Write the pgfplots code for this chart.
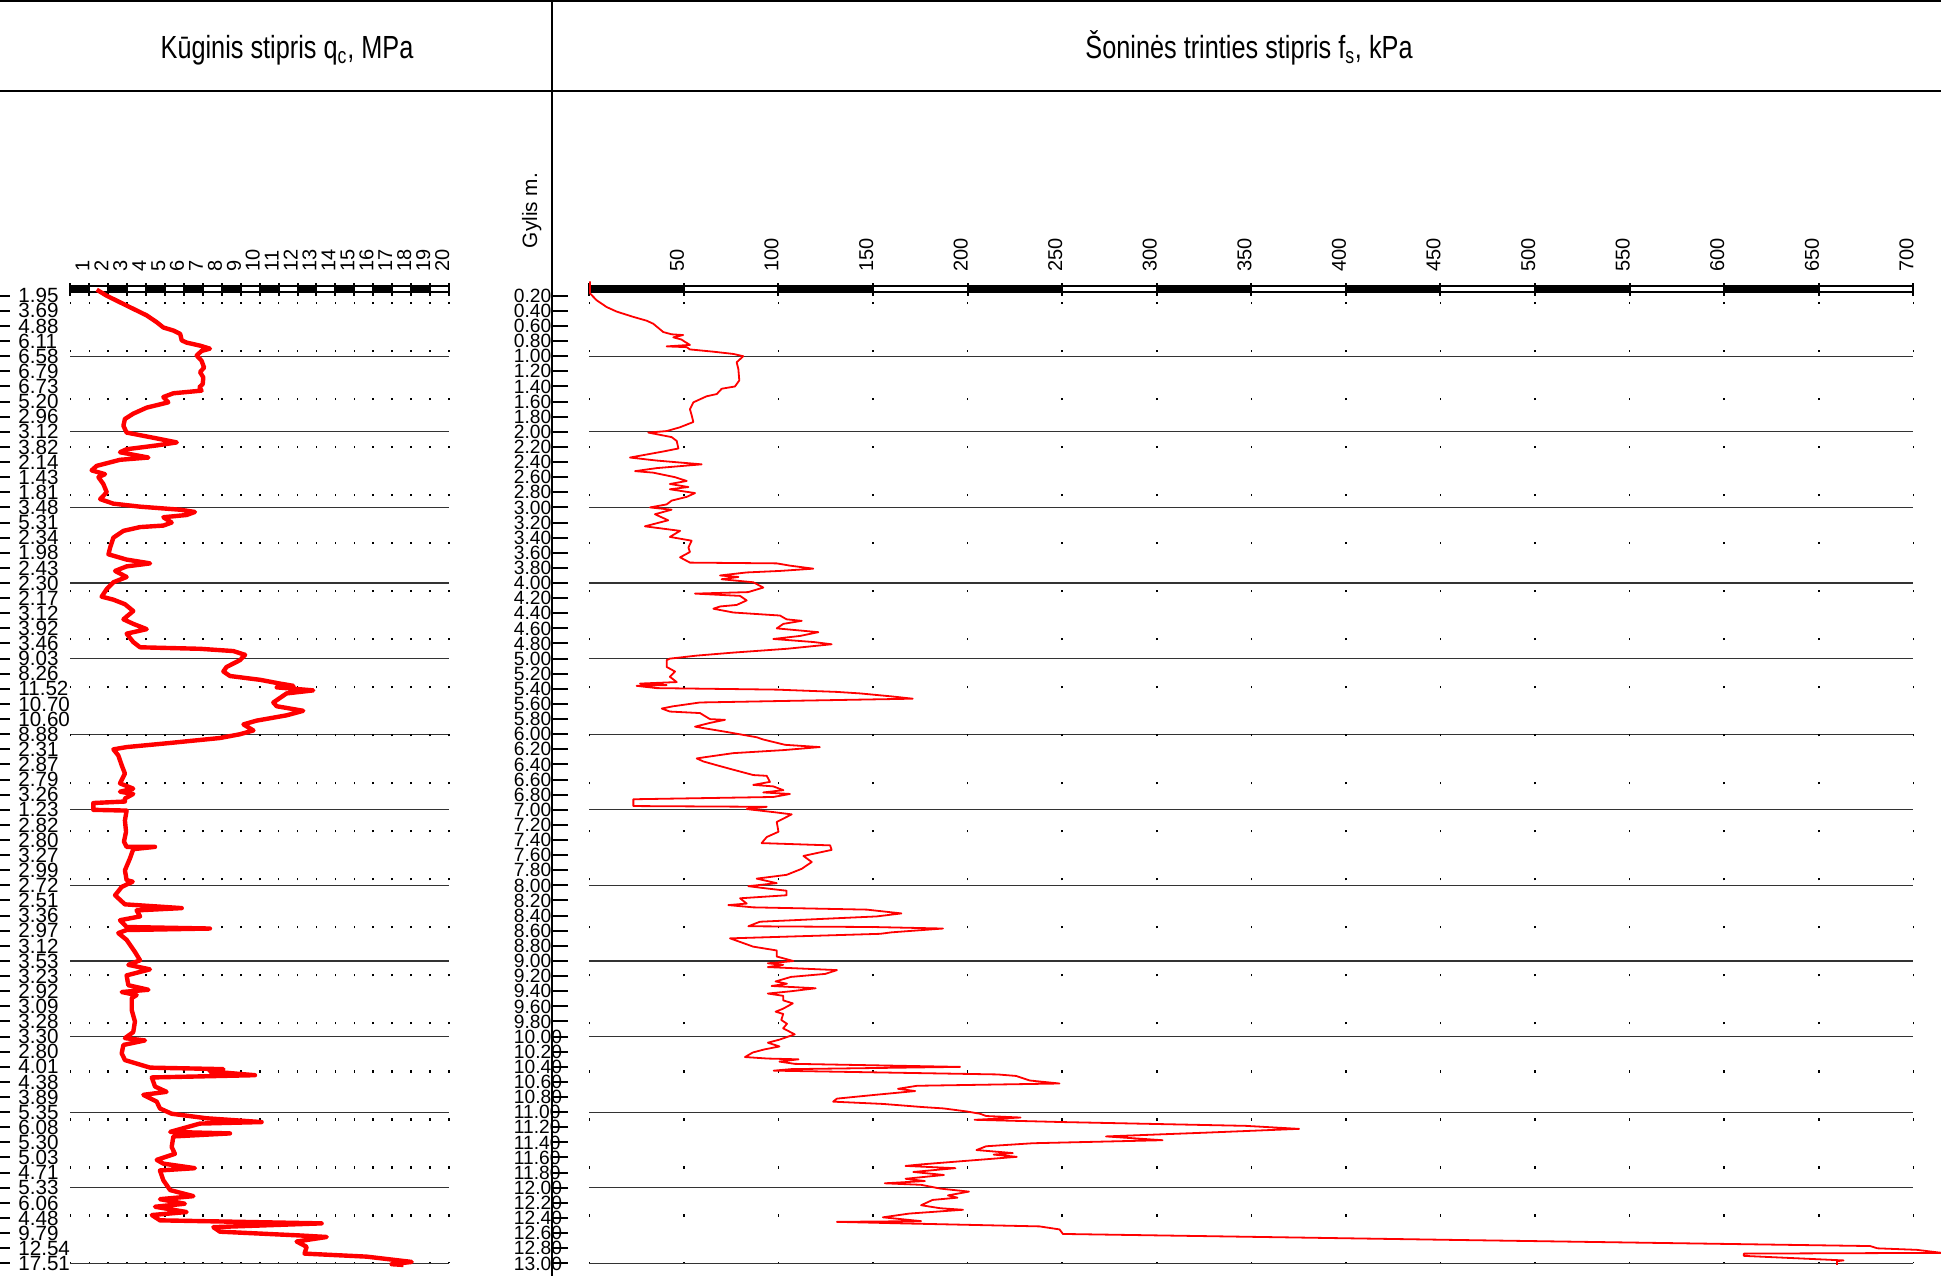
\documentclass[border=0pt]{standalone}
\usepackage{pgfplots}
\pgfplotsset{compat=1.18}
\usepackage{graphicx}
\usepackage{fontspec}
\setmainfont{Liberation Sans}

\def\depthticks{0.2,0.4,0.6,0.8,1.0,1.2,1.4,1.6,1.8,2.0,2.2,2.4,2.6,2.8,3.0,3.2,3.4,3.6,3.8,4.0,4.2,4.4,4.6,4.8,5.0,5.2,5.4,5.6,5.8,6.0,6.2,6.4,6.6,6.8,7.0,7.2,7.4,7.6,7.8,8.0,8.2,8.4,8.6,8.8,9.0,9.2,9.4,9.6,9.8,10.0,10.2,10.4,10.6,10.8,11.0,11.2,11.4,11.6,11.8,12.0,12.2,12.4,12.6,12.8,13.0}

\begin{document}
\begin{tikzpicture}
\begin{scope}[x=0.5pt,y=-0.5pt]
  \draw[line width=1pt] (0,1) -- (1941,1);
  \draw[line width=1pt] (0,90.7) -- (1941,90.7);
  \draw[line width=1pt] (552,0) -- (552,1276);
  \node[anchor=base, inner sep=0pt] at (287,58) {\fontsize{16pt}{16pt}\selectfont\scalebox{0.79}[1]{Kūginis stipris q\textsubscript{c}, MPa}};
  \node[anchor=base, inner sep=0pt] at (1249,58) {\fontsize{16pt}{16pt}\selectfont\scalebox{0.79}[1]{Šoninės trinties stipris f\textsubscript{s}, kPa}};
  \node[rotate=90, anchor=base, inner sep=0pt] at (537,210.5) {\fontsize{10.4pt}{10.4pt}\selectfont Gylis m.};
  \foreach \i in {1,...,65} {
    \draw[line width=1pt] (0,280.6+15.118*\i) -- (10,280.6+15.118*\i);
    \draw[line width=1pt] (552,280.6+15.118*\i) -- (568,280.6+15.118*\i);
  }
\end{scope}

% ---------------- left panel: qc ----------------
\begin{axis}[
  at={(129.85pt,-386pt)}, anchor=center,
  width=189.3pt, height=491.4pt, scale only axis,
  xmin=0, xmax=20, ymin=0, ymax=13, y dir=reverse,
  clip=false,
  axis line style={draw=none},
  major tick length=0pt,
  /pgf/number format/assume math mode=true,
  xtick={1,2,3,4,5,6,7,8,9,10,11,12,13,14,15,16,17,18,19,20},
  xticklabel pos=upper,
  xticklabel shift=4.45pt,
  xticklabel style={rotate=90, anchor=base west, inner sep=0pt, font=\fontsize{10pt}{10pt}\selectfont},
  ytick=\depthticks,
  yticklabels={1.95,3.69,4.88,6.11,6.58,6.79,6.73,5.20,2.96,3.12,3.82,2.14,1.43,1.81,3.48,5.31,2.34,1.98,2.43,2.30,2.17,3.12,3.92,3.46,9.03,8.26,11.52,10.70,10.60,8.88,2.31,2.87,2.79,3.26,1.23,2.82,2.80,3.27,2.99,2.72,2.51,3.36,2.97,3.12,3.53,3.23,2.92,3.09,3.28,3.30,2.80,4.01,4.38,3.89,5.35,6.08,5.30,5.03,4.71,5.33,6.06,4.48,9.79,12.54,17.51},
  yticklabel style={anchor=west, inner sep=0pt, xshift=-26.2pt, font=\fontsize{10.3pt}{10.3pt}\selectfont},
  extra y ticks={1,2,3,4,5,6,7,8,9,10,11,12,13},
  extra y tick labels={},
  extra y tick style={grid=major, major grid style={black!80, line width=0.6pt}},
]
\pgfplotsinvokeforeach{0,1,2,3,4,5,6,7,8,9,10,11,12,13,14,15,16,17,18,19,20}{
  \draw[line width=0.8pt, dash pattern=on 1.2pt off 22.815pt, dash phase=0.6pt] (axis cs:#1,13) -- (axis cs:#1,0.2);
}
\fill (axis cs:0,0.074) rectangle (axis cs:1,0.152);
\fill (axis cs:2,0.074) rectangle (axis cs:3,0.152);
\fill (axis cs:4,0.074) rectangle (axis cs:5,0.152);
\fill (axis cs:6,0.074) rectangle (axis cs:7,0.152);
\fill (axis cs:8,0.074) rectangle (axis cs:9,0.152);
\fill (axis cs:10,0.074) rectangle (axis cs:11,0.152);
\fill (axis cs:12,0.074) rectangle (axis cs:13,0.152);
\fill (axis cs:14,0.074) rectangle (axis cs:15,0.152);
\fill (axis cs:16,0.074) rectangle (axis cs:17,0.152);
\fill (axis cs:18,0.074) rectangle (axis cs:19,0.152);
\draw[line width=1.15pt] (axis cs:0,0.074) rectangle (axis cs:20,0.152);
\pgfplotsinvokeforeach{0,1,2,3,4,5,6,7,8,9,10,11,12,13,14,15,16,17,18,19,20}{
  \draw[line width=1pt] (axis cs:#1,0.032) -- (axis cs:#1,0.204);
}
\addplot[red, line width=2.2pt, line join=round] coordinates {
(1.39,0.12) (1.92,0.20) (2.97,0.33) (4.03,0.46) (4.56,0.55) (4.91,0.62) (5.44,0.66) (5.80,0.705) (5.88,0.79) (6.14,0.82) (6.85,0.86) (7.37,0.90) (6.93,0.93) (6.67,0.99) (6.93,1.06) (7.06,1.15) (6.85,1.21) (7.02,1.28) (6.99,1.37) (6.81,1.41) (6.93,1.455) (5.44,1.49) (4.91,1.54) (5.17,1.61) (4.03,1.68) (3.32,1.76) (2.88,1.83) (2.80,1.92) (2.97,2.01) (4.21,2.07) (5.62,2.14) (4.56,2.18) (2.97,2.23) (2.62,2.27) (4.12,2.34) (2.62,2.37) (1.39,2.45) (1.12,2.51) (1.83,2.56) (1.48,2.60) (1.74,2.69) (1.92,2.80) (1.57,2.89) (2.27,2.95) (3.68,2.99) (5.79,3.03) (6.58,3.06) (6.14,3.10) (4.91,3.13) (5.35,3.20) (4.91,3.24) (3.68,3.26) (2.80,3.31) (2.27,3.40) (2.10,3.53) (2.01,3.62) (2.97,3.69) (4.21,3.74) (2.97,3.78) (2.36,3.84) (2.97,3.92) (2.27,3.99) (1.92,4.08) (1.65,4.18) (2.27,4.22) (2.88,4.28) (3.32,4.37) (2.80,4.48) (3.32,4.54) (4.03,4.61) (2.97,4.67) (3.32,4.78) (3.68,4.85) (6.85,4.87) (8.61,4.90) (9.23,4.95) (8.96,5.02) (8.25,5.11) (8.08,5.17) (8.43,5.23) (10.02,5.28) (11.07,5.33) (11.78,5.36) (10.90,5.38) (12.83,5.42) (11.42,5.46) (10.72,5.58) (10.90,5.63) (12.30,5.69) (11.42,5.75) (9.84,5.82) (9.14,5.87) (9.67,5.95) (8.96,6.00) (7.90,6.05) (5.08,6.12) (2.97,6.17) (2.27,6.20) (2.53,6.28) (2.71,6.41) (2.88,6.52) (2.62,6.65) (3.32,6.72) (2.62,6.76) (3.32,6.79) (2.88,6.85) (2.88,6.89) (1.21,6.91) (1.21,7.00) (2.97,7.01) (2.88,7.14) (2.94,7.29) (2.83,7.42) (2.97,7.49) (4.47,7.49) (3.32,7.52) (3.15,7.64) (2.88,7.80) (2.97,7.93) (3.29,7.95) (2.71,8.02) (2.36,8.13) (2.88,8.25) (5.88,8.30) (3.50,8.33) (3.68,8.41) (2.62,8.46) (2.97,8.55) (7.37,8.57) (2.97,8.59) (2.53,8.63) (2.97,8.72) (3.41,8.88) (3.68,8.99) (3.06,9.05) (4.20,9.11) (2.97,9.19) (3.06,9.32) (4.12,9.38) (2.71,9.41) (3.50,9.45) (3.24,9.49) (3.24,9.65) (3.41,9.80) (3.32,9.94) (2.88,10.02) (3.94,10.05) (2.80,10.11) (2.71,10.22) (2.88,10.31) (4.21,10.41) (8.08,10.43) (7.37,10.46) (9.75,10.51) (4.30,10.54) (4.47,10.66) (5.08,10.73) (3.85,10.77) (4.56,10.86) (4.73,10.95) (5.35,11.02) (7.20,11.08) (10.10,11.13) (6.84,11.15) (5.27,11.26) (8.43,11.28) (5.44,11.32) (5.35,11.46) (5.52,11.55) (4.56,11.63) (4.91,11.68) (6.58,11.74) (4.73,11.77) (4.91,11.90) (5.27,12.03) (6.50,12.11) (4.73,12.15) (6.05,12.21) (4.47,12.25) (6.14,12.32) (4.30,12.36) (4.73,12.43) (13.27,12.47) (7.55,12.52) (7.90,12.58) (12.13,12.63) (13.54,12.65) (11.95,12.71) (12.48,12.78) (12.37,12.87) (15.65,12.91) (18.03,12.98) (16.97,13.01) (17.59,13.02)
};
\end{axis}

% ---------------- right panel: fs ----------------
\begin{axis}[
  at={(625.65pt,-386pt)}, anchor=center,
  width=662pt, height=491.4pt, scale only axis,
  xmin=0, xmax=700, ymin=0, ymax=13, y dir=reverse,
  clip=false,
  axis line style={draw=none},
  major tick length=0pt,
  /pgf/number format/assume math mode=true,
  xtick={50,100,150,200,250,300,350,400,450,500,550,600,650,700},
  xticklabel pos=upper,
  xticklabel shift=4.45pt,
  xticklabel style={rotate=90, anchor=base west, inner sep=0pt, font=\fontsize{10pt}{10pt}\selectfont},
  ytick=\depthticks,
  yticklabel={\pgfmathprintnumber[fixed,fixed zerofill,precision=2,assume math mode=true]{\tick}},
  yticklabel style={anchor=west, inner sep=0pt, xshift=-37.9pt, font=\fontsize{9.6pt}{9.6pt}\selectfont},
  extra y ticks={1,2,3,4,5,6,7,8,9,10,11,12,13},
  extra y tick labels={},
  extra y tick style={grid=major, major grid style={black!80, line width=0.6pt}},
]
\pgfplotsinvokeforeach{0,50,100,150,200,250,300,350,400,450,500,550,600,650,700}{
  \draw[line width=0.8pt, dash pattern=on 1.2pt off 22.815pt, dash phase=0.6pt] (axis cs:#1,13) -- (axis cs:#1,0.2);
}
\fill (axis cs:0,0.074) rectangle (axis cs:50,0.152);
\fill (axis cs:100,0.074) rectangle (axis cs:150,0.152);
\fill (axis cs:200,0.074) rectangle (axis cs:250,0.152);
\fill (axis cs:300,0.074) rectangle (axis cs:350,0.152);
\fill (axis cs:400,0.074) rectangle (axis cs:450,0.152);
\fill (axis cs:500,0.074) rectangle (axis cs:550,0.152);
\fill (axis cs:600,0.074) rectangle (axis cs:650,0.152);
\draw[line width=1.15pt] (axis cs:0,0.074) rectangle (axis cs:700,0.152);
\pgfplotsinvokeforeach{0,50,100,150,200,250,300,350,400,450,500,550,600,650,700}{
  \draw[line width=1pt] (axis cs:#1,0.032) -- (axis cs:#1,0.204);
}
\addplot[red, line width=0.9pt, line join=round] coordinates {
(0.4,0.01) (0.4,0.17) (3.9,0.26) (9.2,0.35) (14.5,0.41) (23.3,0.48) (30.3,0.53) (33.8,0.57) (39.1,0.68) (43.5,0.71) (49.6,0.72) (44.4,0.75) (48.8,0.78) (50.6,0.81) (53.2,0.85) (40.9,0.87) (51.5,0.88) (53.2,0.91) (65.6,0.94) (76.2,0.97) (81.4,1.00) (77.9,1.08) (78.8,1.17) (79.3,1.32) (77.0,1.40) (70.0,1.43) (67.4,1.50) (62.0,1.53) (55.0,1.61) (53.2,1.70) (54.1,1.78) (55.0,1.87) (47.9,1.94) (40.9,1.99) (31.2,2.01) (37.4,2.04) (43.5,2.07) (46.2,2.12) (47.1,2.22) (39.1,2.26) (21.5,2.34) (35.6,2.38) (59.4,2.43) (35.6,2.48) (24.2,2.52) (33.8,2.54) (45.3,2.60) (51.5,2.65) (42.6,2.69) (52.4,2.73) (42.6,2.76) (55.9,2.81) (51.5,2.86) (43.5,2.91) (40.9,2.96) (32.1,3.00) (43.5,3.03) (34.7,3.09) (41.7,3.17) (29.4,3.25) (48.0,3.31) (42.6,3.39) (54.1,3.44) (52.4,3.53) (53.2,3.59) (48.0,3.66) (53.2,3.73) (99.1,3.74) (106.1,3.77) (118.4,3.81) (100.8,3.84) (83.2,3.86) (69.1,3.90) (78.8,3.92) (69.9,3.95) (86.7,3.99) (92.0,4.06) (84.0,4.12) (55.9,4.14) (79.7,4.17) (83.2,4.23) (77.9,4.29) (69.1,4.31) (65.6,4.34) (76.2,4.39) (100.8,4.43) (104.3,4.48) (112.3,4.50) (102.6,4.54) (99.1,4.60) (121.1,4.65) (111.4,4.70) (97.3,4.74) (118.4,4.78) (128.1,4.81) (104.3,4.87) (76.2,4.92) (56.8,4.96) (42.6,5.00) (40.9,5.02) (40.9,5.11) (45.3,5.17) (42.6,5.24) (46.2,5.31) (26.8,5.33) (40.9,5.35) (25.0,5.36) (35.6,5.39) (99.1,5.41) (130.8,5.44) (143.1,5.46) (160.0,5.50) (171.0,5.53) (102.6,5.56) (58.5,5.58) (44.4,5.63) (38.3,5.66) (42.6,5.70) (58.5,5.72) (63.8,5.80) (71.7,5.81) (63.8,5.85) (55.9,5.90) (72.6,5.97) (88.5,6.04) (92.0,6.07) (103.5,6.14) (121.9,6.17) (102.6,6.21) (76.2,6.25) (62.1,6.30) (56.8,6.32) (60.3,6.36) (67.4,6.41) (76.2,6.47) (86.7,6.54) (93.8,6.55) (95.5,6.63) (86.7,6.67) (97.3,6.69) (102.6,6.74) (92.0,6.77) (106.1,6.79) (97.3,6.83) (23.3,6.86) (23.3,6.95) (93.8,6.96) (83.2,6.99) (97.3,7.03) (107.0,7.06) (99.1,7.16) (100.0,7.29) (93.8,7.36) (91.1,7.44) (127.3,7.47) (128.1,7.53) (113.2,7.61) (117.6,7.69) (112.3,7.78) (104.3,7.86) (88.5,7.91) (99.1,7.97) (84.1,8.01) (93.8,8.04) (104.3,8.07) (104.3,8.13) (79.7,8.17) (83.2,8.24) (73.5,8.26) (86.7,8.29) (146.7,8.32) (165.0,8.37) (151.9,8.41) (90.2,8.48) (84.1,8.54) (150.0,8.55) (187.0,8.57) (160.0,8.62) (153.7,8.64) (74.4,8.70) (86.7,8.81) (99.1,8.86) (99.1,8.94) (107.9,9.00) (94.4,9.03) (102.5,9.05) (94.4,9.08) (130.9,9.12) (124.8,9.17) (106.6,9.21) (98.5,9.27) (104.5,9.30) (96.4,9.33) (119.7,9.36) (106.6,9.40) (94.4,9.43) (102.5,9.46) (102.5,9.52) (107.6,9.56) (102.5,9.63) (98.5,9.67) (102.5,9.70) (101.5,9.78) (104.5,9.83) (102.5,9.89) (108.6,9.97) (100.5,10.04) (94.4,10.08) (100.5,10.13) (92.4,10.17) (86.4,10.21) (82.3,10.27) (94.4,10.29) (110.6,10.30) (100.5,10.33) (108.6,10.36) (196.0,10.40) (106.6,10.43) (97.5,10.45) (215.9,10.50) (225.7,10.52) (232.8,10.58) (248.6,10.62) (173.3,10.65) (163.2,10.69) (172.3,10.72) (151.1,10.77) (130.9,10.82) (128.9,10.86) (155.2,10.89) (175.4,10.93) (187.5,10.95) (199.6,10.99) (206.6,11.02) (209.8,11.05) (228.0,11.07) (203.7,11.10) (250.4,11.13) (347.0,11.18) (375.2,11.22) (325.9,11.27) (273.2,11.32) (303.1,11.37) (234.5,11.41) (209.8,11.45) (204.7,11.50) (223.9,11.54) (213.8,11.56) (226.0,11.59) (195.6,11.65) (175.4,11.69) (167.2,11.71) (193.6,11.74) (171.3,11.79) (187.5,11.83) (167.2,11.88) (177.4,11.91) (156.2,11.94) (175.4,11.96) (185.6,12.01) (200.7,12.05) (189.6,12.10) (194.6,12.13) (181.5,12.16) (175.4,12.23) (185.6,12.27) (197.6,12.29) (169.3,12.34) (155.2,12.39) (175.4,12.44) (130.9,12.45) (165.0,12.47) (238.0,12.51) (248.6,12.55) (250.4,12.61) (460.0,12.69) (677.2,12.77) (681.0,12.80) (701.8,12.82) (715.0,12.86) (610.4,12.87) (610.4,12.90) (636.8,12.93) (663.1,12.96) (659.6,12.97) (659.6,13.02)
};
\end{axis}

\pgfresetboundingbox
\useasboundingbox (0,0) rectangle (970.5pt,-638pt);
\end{tikzpicture}
\end{document}
